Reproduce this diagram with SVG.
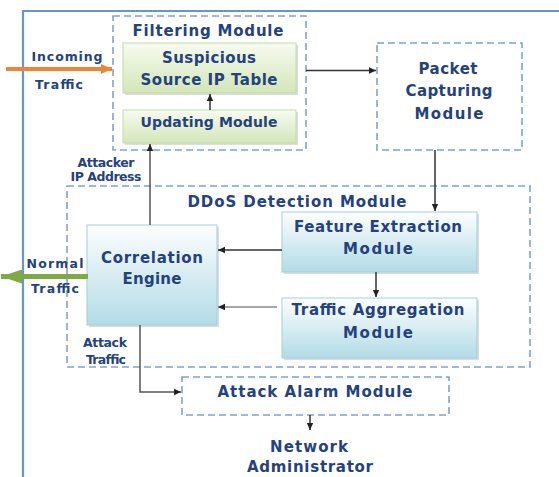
<svg xmlns="http://www.w3.org/2000/svg" width="559" height="477" viewBox="0 0 559 477">
<defs>
<linearGradient id="gGreen" x1="0" y1="0" x2="0" y2="1">
<stop offset="0" stop-color="#F7FBF0"/>
<stop offset="1" stop-color="#D3E6B8"/>
</linearGradient>
<linearGradient id="gBlue" x1="0" y1="0" x2="0" y2="1">
<stop offset="0" stop-color="#FDFEFE"/>
<stop offset="1" stop-color="#B3DBE6"/>
</linearGradient>
<marker id="ah" markerWidth="8" markerHeight="8" refX="7" refY="4" orient="auto" markerUnits="userSpaceOnUse">
<path d="M0,0.8 L7,4 L0,7.2 Z" fill="#222"/>
</marker>
<marker id="ahO" markerWidth="12" markerHeight="12" refX="11" refY="6" orient="auto" markerUnits="userSpaceOnUse">
<path d="M0,1 L11,6 L0,11 Z" fill="#EE8536"/>
</marker>
<marker id="ahG" markerWidth="22" markerHeight="14" refX="21" refY="7" orient="auto" markerUnits="userSpaceOnUse">
<path d="M0,0 L21,7 L0,14 Z" fill="#7FAA43"/>
</marker>
</defs>
<style>
.t{font-family:"DejaVu Sans","Liberation Sans",sans-serif;font-weight:bold;fill:#24427E;text-anchor:middle}
.big{font-size:15px}
.sm{font-size:12.5px}
.dash{fill:none;stroke:#7FA2D2;stroke-width:1.6;stroke-dasharray:7 4}
.green{fill:url(#gGreen);stroke:#C4DBA4;stroke-width:1}
.blue{fill:url(#gBlue);stroke:#A3CFDC;stroke-width:1}
.shadow{fill:#D8DEE3}
.ln{fill:none;stroke:#333;stroke-width:1.5;marker-end:url(#ah)}
</style>
<rect width="559" height="477" fill="#FFFFFF"/>
<g id="frame">
<path d="M23,477 V11 H559" fill="none" stroke="#6A94D0" stroke-width="2.2"/>
</g>
<g id="filtering-module">
<rect class="dash" x="113" y="16" width="193" height="134"/>
<text class="t big" x="208" y="36" textLength="151">Filtering Module</text>
</g>
<g id="suspicious-table">
<rect class="shadow" x="125" y="45" width="173" height="50"/>
<rect class="green" x="123" y="43" width="173" height="50"/>
<text class="t big" x="209" y="63" textLength="94">Suspicious</text>
<text class="t big" x="209" y="85" textLength="137">Source IP Table</text>
</g>
<g id="updating-module">
<rect class="shadow" x="125" y="112" width="173" height="33"/>
<rect class="green" x="123" y="110" width="173" height="33"/>
<text class="t" style="font-size:14px" x="209" y="127" textLength="137">Updating Module</text>
</g>
<g id="packet-capturing">
<rect class="dash" x="377" y="43" width="145" height="107"/>
<text class="t big" x="448" y="74" textLength="59">Packet</text>
<text class="t big" x="449" y="96" textLength="87">Capturing</text>
<text class="t big" x="449" y="119" textLength="69">Module</text>
</g>
<g id="ddos-detection">
<rect class="dash" x="67" y="186" width="463" height="181"/>
<text class="t big" x="297" y="207" textLength="219">DDoS Detection Module</text>
</g>
<g id="feature-extraction">
<rect class="shadow" x="284" y="214" width="195" height="60"/>
<rect class="blue" x="282" y="212" width="195" height="60"/>
<text class="t big" x="378" y="232" textLength="168">Feature Extraction</text>
<text class="t big" x="378" y="254" textLength="70">Module</text>
</g>
<g id="traffic-aggregation">
<rect class="shadow" x="284" y="300" width="195" height="60"/>
<rect class="blue" x="282" y="298" width="195" height="60"/>
<text class="t big" x="378" y="315" textLength="173">Traffic Aggregation</text>
<text class="t big" x="378" y="338" textLength="70">Module</text>
</g>
<g id="correlation-engine">
<rect class="shadow" x="89" y="227" width="130" height="100"/>
<rect class="blue" x="87" y="225" width="130" height="100"/>
<text class="t big" x="152" y="263" textLength="102">Correlation</text>
<text class="t big" x="152" y="284" textLength="59">Engine</text>
</g>
<g id="attack-alarm">
<rect class="dash" x="182" y="377" width="267" height="38"/>
<text class="t big" x="315" y="397" textLength="195">Attack Alarm Module</text>
</g>
<g id="network-admin">
<text class="t big" x="309" y="452" textLength="78">Network</text>
<text class="t big" x="310" y="472" textLength="126">Administrator</text>
</g>
<g id="connectors">
<path class="ln" d="M210,110 V94"/>
<path class="ln" d="M306,70.5 H376"/>
<path class="ln" d="M435,150 V211"/>
<path class="ln" d="M376,272 V297"/>
<path class="ln" d="M282,250 H218"/>
<path class="ln" d="M277,307 H218" style="stroke:#888"/>
<path class="ln" d="M150,225 V144" style="stroke:#555"/>
<path class="ln" d="M140,325 V392 H181" style="stroke:#555"/>
<path class="ln" d="M310,415 V430"/>
<path d="M6,69 H112" fill="none" stroke="#EE8536" stroke-width="4" marker-end="url(#ahO)"/>
<path d="M88,276.5 H1" fill="none" stroke="#7FAA43" stroke-width="5" marker-end="url(#ahG)"/>
</g>
<g id="labels">
<text class="t sm" x="67" y="61" textLength="71">Incoming</text>
<text class="t sm" x="59" y="89" textLength="48">Traffic</text>
<text class="t sm" x="106" y="167" textLength="57">Attacker</text>
<text class="t sm" x="106" y="181" textLength="71">IP Address</text>
<text class="t sm" x="55" y="268" textLength="57">Normal</text>
<text class="t sm" x="55" y="293" textLength="48">Traffic</text>
<text class="t sm" x="105" y="347" textLength="44">Attack</text>
<text class="t sm" x="106" y="364" textLength="40">Traffic</text>
</g>
</svg>
